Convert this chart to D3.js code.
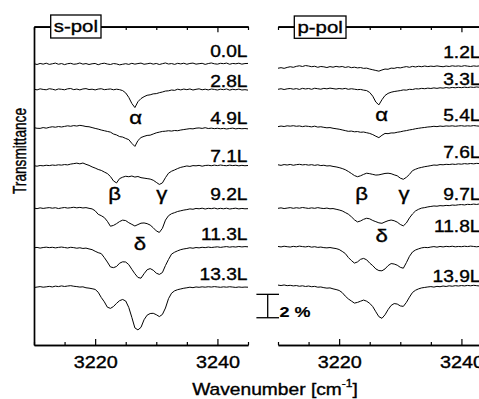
<!DOCTYPE html>
<html><head><meta charset="utf-8">
<script src="https://cdn.jsdelivr.net/npm/d3@7"></script>
<style>html,body{margin:0;padding:0;background:#fff;overflow:hidden}</style>
</head><body>
<svg id="chart" width="479" height="399"></svg>
<script>
// ---------- DATA ----------
const wavenumbers = [
3210,3210.5,3211,3211.5,3212,3212.5,3213,3213.5,3214,3214.5,
3215,3215.5,3216,3216.5,3217,3217.5,3218,3218.5,3219,3219.5,
3220,3220.5,3221,3221.5,3222,3222.5,3223,3223.5,3224,3224.5,
3225,3225.5,3226,3226.5,3227,3227.5,3228,3228.5,3229,3229.5,
3230,3230.5,3231,3231.5,3232,3232.5,3233,3233.5,3234,3234.5,
3235,3235.5,3236,3236.5,3237,3237.5,3238,3238.5,3239,3239.5,
3240,3240.5,3241,3241.5,3242,3242.5,3243,3243.5,3244,3244.5,
3245];

const panelTitles = ["s-pol", "p-pol"];
const sPolLabels = ["0.0L","2.8L","4.9L","7.1L","9.2L","11.3L","13.3L"];
const pPolLabels = ["1.2L","3.3L","5.4L","7.6L","9.7L","11.8L","13.9L"];
// vertical offsets of the stacked spectra (% transmittance)
const sPolOffsets = [24.02, 21.84, 18.55, 15.30, 11.67, 8.29, 4.91];
const pPolOffsets = [23.76, 21.88, 18.68, 15.38, 11.88, 8.40, 5.04];

// transmittance change (%) for each spectrum, s-polarisation
const s00 = [0.02,-0.05,0.04,-0.02,0.06,-0.04,0.01,0.07,-0.03,0.03,
-0.06,0.02,0.05,-0.03,0.00,0.08,-0.02,0.03,-0.05,0.01,
0.04,-0.07,0.02,0.06,-0.01,-0.05,0.03,0.00,-0.08,-0.03,
0.02,-0.04,0.05,-0.02,0.03,0.07,-0.03,0.01,0.06,-0.02,
0.04,-0.05,0.02,0.08,-0.01,0.03,-0.04,0.05,0.00,0.06,
-0.03,0.04,0.07,-0.02,0.02,0.05,-0.04,0.03,0.08,0.01,
-0.02,0.05,0.02,0.07,-0.03,0.04,0.01,0.06,-0.02,0.03,
0.04];
const s28 = [0.03,-0.04,0.05,0.00,-0.03,0.06,0.02,-0.05,0.04,0.01,
-0.03,0.05,0.08,-0.02,0.03,-0.04,0.04,0.07,-0.01,0.02,
-0.04,0.03,0.06,-0.02,0.01,0.04,-0.03,0.02,-0.02,-0.10,
-0.30,-0.68,-1.20,-1.55,-1.05,-0.78,-0.62,-0.50,-0.46,-0.38,
-0.36,-0.28,-0.22,-0.14,-0.12,-0.05,-0.08,0.02,-0.04,0.03,
-0.02,0.04,-0.05,0.01,0.05,-0.03,0.02,-0.04,0.03,0.00,
-0.05,0.02,-0.02,0.04,-0.06,0.01,-0.03,0.03,-0.05,-0.02,
-0.06];
const s49 = [0.02,-0.03,-0.04,0.03,-0.02,0.05,0.10,0.06,0.12,0.08,
0.13,0.18,0.14,0.20,0.16,0.22,0.18,0.12,0.10,0.03,
-0.04,-0.10,-0.18,-0.24,-0.30,-0.36,-0.52,-0.60,-0.74,-0.78,
-0.90,-1.00,-1.32,-1.58,-1.08,-0.82,-0.72,-0.64,-0.62,-0.52,
-0.42,-0.36,-0.30,-0.28,-0.24,-0.27,-0.22,-0.24,-0.18,-0.14,
-0.10,-0.06,-0.08,-0.02,0.00,-0.04,0.02,-0.05,-0.02,-0.06,
-0.03,-0.07,-0.04,-0.09,-0.05,-0.02,-0.08,-0.04,-0.07,-0.05,
-0.08];
const s71 = [0.02,-0.02,0.04,0.01,0.06,0.03,0.08,0.05,0.10,0.07,
0.12,0.09,0.16,0.20,0.24,0.18,0.25,0.14,0.05,-0.08,
-0.18,-0.30,-0.38,-0.52,-0.65,-0.90,-1.28,-1.45,-1.08,-0.96,
-0.88,-0.92,-0.86,-0.95,-0.90,-1.00,-1.04,-1.08,-1.12,-1.22,
-1.40,-1.58,-1.45,-1.00,-0.62,-0.45,-0.34,-0.22,-0.12,-0.06,
0.00,-0.04,0.03,0.01,0.05,-0.02,0.04,0.06,0.02,0.07,
0.03,0.08,0.04,0.02,0.07,0.03,0.06,0.01,0.05,0.02,
0.04];
const s92 = [0.03,-0.02,0.05,0.00,0.04,0.07,0.02,0.06,-0.01,0.04,
0.08,0.03,0.06,0.10,0.05,0.09,0.04,0.07,0.01,-0.04,
-0.20,-0.50,-0.62,-0.78,-1.10,-1.52,-1.45,-1.30,-1.12,-1.00,
-1.04,-1.22,-1.36,-1.50,-1.38,-1.26,-1.24,-1.30,-1.42,-1.65,
-1.92,-2.05,-1.70,-1.00,-0.62,-0.45,-0.36,-0.26,-0.20,-0.14,
-0.10,-0.04,-0.07,0.00,-0.03,0.02,-0.05,0.01,-0.02,0.03,
-0.04,0.01,-0.03,0.02,-0.05,-0.01,0.02,-0.04,0.00,-0.03,
-0.02];
const s113 = [0.02,0.05,-0.01,0.04,0.07,0.03,0.06,0.01,0.05,0.08,
0.04,0.00,0.06,0.03,-0.02,0.02,-0.04,-0.01,-0.08,-0.14,
-0.28,-0.40,-0.48,-0.82,-1.20,-1.62,-1.68,-1.58,-1.30,-1.18,
-1.20,-1.42,-1.82,-2.20,-2.52,-2.58,-2.20,-1.86,-1.76,-1.90,
-2.15,-2.26,-2.10,-1.50,-0.98,-0.52,-0.36,-0.24,-0.14,-0.08,
-0.04,0.02,-0.02,0.04,0.01,0.06,0.03,0.08,0.04,0.07,
0.10,0.05,0.09,0.12,0.07,0.11,0.08,0.13,0.09,0.12,
0.10];
const s133 = [0.00,0.04,0.08,0.03,0.06,0.10,0.05,0.12,0.08,0.14,
0.09,0.13,0.16,0.11,0.08,0.04,0.06,-0.02,-0.05,-0.10,
-0.16,-0.40,-0.85,-1.22,-1.68,-1.78,-1.62,-1.35,-1.12,-1.02,
-1.15,-1.70,-2.55,-3.45,-3.62,-3.40,-2.75,-2.36,-2.22,-2.20,
-2.32,-2.48,-2.30,-1.75,-0.95,-0.48,-0.28,-0.18,-0.12,-0.06,
-0.02,0.03,-0.01,0.05,0.02,0.06,0.03,0.07,0.04,0.08,
0.05,0.02,0.06,0.03,0.07,0.04,0.01,0.05,0.02,0.04,
0.03];

// p-polarisation
const p12 = [-0.11,-0.06,-0.12,-0.04,0.02,-0.03,0.05,0.10,0.04,0.12,
0.08,0.02,0.06,-0.03,0.04,0.01,-0.05,0.03,-0.02,0.05,
0.00,0.04,-0.04,0.02,-0.06,-0.02,-0.08,-0.05,-0.12,-0.10,
-0.18,-0.24,-0.30,-0.36,-0.26,-0.18,-0.20,-0.10,-0.12,-0.05,
-0.08,-0.02,0.03,-0.03,0.05,0.00,0.06,0.02,0.08,0.03,
0.07,0.04,0.09,0.05,0.02,0.08,0.04,0.10,0.06,0.09,
0.05,0.11,0.07,0.04,0.09,0.06,0.10,0.07,0.12,0.08,
0.10];
const p33 = [-0.03,0.02,-0.05,0.01,0.04,-0.02,0.03,-0.04,0.05,0.00,
0.04,-0.03,0.06,0.02,-0.02,0.05,0.01,0.07,0.03,-0.01,
0.04,0.00,0.05,-0.03,0.02,-0.02,-0.06,-0.04,-0.10,-0.14,
-0.30,-0.62,-1.12,-1.36,-0.92,-0.56,-0.38,-0.28,-0.22,-0.18,
-0.14,-0.08,-0.10,-0.03,-0.05,0.02,0.00,0.05,0.02,0.07,
0.04,0.09,0.05,0.10,0.07,0.12,0.08,0.13,0.10,0.14,
0.11,0.15,0.12,0.16,0.13,0.17,0.14,0.18,0.15,0.16,
0.17];
const p54 = [-0.02,0.03,-0.01,0.05,0.02,0.06,0.01,0.04,-0.02,0.03,
0.00,-0.04,0.02,-0.06,-0.03,-0.08,-0.12,-0.10,-0.16,-0.20,
-0.24,-0.30,-0.36,-0.42,-0.40,-0.46,-0.44,-0.50,-0.48,-0.54,
-0.60,-0.70,-0.84,-0.96,-0.76,-0.60,-0.62,-0.56,-0.56,-0.50,
-0.46,-0.40,-0.36,-0.30,-0.26,-0.20,-0.16,-0.12,-0.09,-0.05,
-0.03,0.01,-0.02,0.03,0.00,0.04,0.02,0.05,0.01,0.04,
0.06,0.02,0.05,0.03,0.07,0.04,0.02,0.06,0.03,0.05,
0.04];
const p76 = [0.02,-0.03,0.04,0.00,0.05,-0.02,0.03,0.06,0.01,0.04,
-0.01,0.03,-0.03,0.02,-0.05,-0.02,-0.08,-0.06,-0.12,-0.16,
-0.22,-0.30,-0.40,-0.55,-0.72,-0.90,-1.00,-0.92,-0.80,-0.70,
-0.74,-0.80,-0.86,-0.84,-0.78,-0.72,-0.70,-0.74,-0.84,-0.92,
-1.12,-1.22,-1.05,-0.80,-0.48,-0.36,-0.26,-0.20,-0.14,-0.10,
-0.05,0.00,-0.02,0.04,0.02,0.06,0.04,0.08,0.05,0.10,
0.07,0.12,0.09,0.13,0.10,0.14,0.12,0.16,0.13,0.15,
0.15];
const p97 = [-0.20,-0.16,-0.22,-0.18,-0.14,-0.20,-0.15,-0.19,-0.13,-0.17,
-0.21,-0.16,-0.20,-0.14,-0.19,-0.22,-0.18,-0.24,-0.22,-0.28,
-0.34,-0.42,-0.56,-0.70,-0.92,-1.18,-1.36,-1.28,-1.14,-1.05,
-1.10,-1.24,-1.34,-1.44,-1.48,-1.36,-1.26,-1.20,-1.26,-1.38,
-1.58,-1.70,-1.45,-1.02,-0.68,-0.42,-0.28,-0.18,-0.14,-0.08,
-0.04,0.00,-0.02,0.03,0.01,0.05,0.03,0.08,0.06,0.10,
0.12,0.09,0.14,0.12,0.16,0.13,0.18,0.15,0.20,0.17,
0.20];
const p118 = [0.02,-0.02,0.04,0.00,-0.03,0.03,-0.01,0.05,0.01,-0.02,
0.03,-0.04,0.00,-0.06,-0.03,-0.08,-0.10,-0.07,-0.12,-0.16,
-0.24,-0.40,-0.58,-0.92,-1.18,-1.40,-1.30,-1.08,-1.00,-1.12,
-1.40,-1.62,-1.90,-2.04,-2.06,-1.90,-1.62,-1.44,-1.48,-1.58,
-1.76,-1.84,-1.36,-0.82,-0.45,-0.28,-0.18,-0.10,-0.06,-0.08,
-0.03,0.01,-0.04,0.02,-0.02,0.03,0.00,0.04,-0.01,0.02,
0.00,0.04,0.01,0.05,0.02,-0.01,0.03,0.01,0.04,0.02,
0.01];
const p139 = [0.08,0.04,0.09,0.03,0.06,0.01,0.04,-0.02,0.02,-0.04,
0.00,-0.06,-0.03,-0.10,-0.08,-0.14,-0.18,-0.16,-0.24,-0.30,
-0.38,-0.56,-0.86,-1.10,-1.28,-1.46,-1.40,-1.30,-1.20,-1.30,
-1.48,-1.76,-2.20,-2.62,-2.76,-2.46,-2.02,-1.66,-1.50,-1.54,
-1.70,-1.74,-1.40,-0.95,-0.55,-0.36,-0.24,-0.16,-0.12,-0.08,
-0.05,-0.09,-0.03,-0.06,0.00,-0.04,0.02,-0.02,0.03,0.00,
0.04,0.01,0.05,0.02,0.06,0.03,0.00,0.04,0.01,0.03,
0.02];

const sPolSeries = [s00, s28, s49, s71, s92, s113, s133];
const pPolSeries = [p12, p33, p54, p76, p97, p118, p139];

const majorTicks = [3220, 3240];
const minorTicks = [3210, 3215, 3225, 3230, 3235, 3245];
const scaleBarPercent = 2;
const scaleBarLabel = "2 %";
const xTitle = "Wavenumber [cm";
const xTitleSup = "-1";
const yTitle = "Transmittance";

// ---------- LAYOUT ----------
const SX = 1.2;               // horizontal text stretch of the original figure
const FONT = "'Liberation Sans', Arial, Helvetica, sans-serif";
const TXT_STROKE = 0.35;      // slight extra weight, like the original print
const yTop = 26.7, yBot = 345;
const svg = d3.select("#chart").style("font-family", FONT);

const y = d3.scaleLinear().domain([0, 27.2]).range([yBot, yTop]);
const panels = [
  { x: d3.scaleLinear().domain([3210, 3245]).range([34, 248]),
    series: sPolSeries, offsets: sPolOffsets, labels: sPolLabels,
    labelX: 247.5, labelY: [57, 87, 123.5, 161.5, 200, 240, 280],
    box: [50.7, 15, 50.3, 23], title: panelTitles[0], leftAxis: true,
    greek: [["α",135.7,123.5],["β",114.7,200],["γ",161.7,200],["δ",140,250]] },
  { x: d3.scaleLinear().domain([3210, 3245]).range([278, 492]),
    series: pPolSeries, offsets: pPolOffsets, labels: pPolLabels,
    labelX: 480.5, labelY: [58.3, 85, 120.5, 158.3, 200, 232.3, 281.7],
    box: [294.3, 16, 51.7, 22.3], title: panelTitles[1], leftAxis: false,
    greek: [["α",381.7,120.5],["β",361.7,200],["γ",404,200],["δ",381.7,241.7]] }
];

function stretchedText(x, yy, str, size, anchor, weight) {
  return svg.append("text")
    .attr("transform", `translate(${x},${yy}) scale(${SX},1)`)
    .attr("text-anchor", anchor)
    .attr("font-size", size)
    .attr("font-weight", weight || "normal")
    .attr("fill", "#000")
    .attr("stroke", "#000").attr("stroke-width", weight === "bold" ? 0.15 : TXT_STROKE)
    .text(str);
}

panels.forEach(p => {
  const x = p.x;
  // bottom axis (ticks inward)
  const gB = svg.append("g").attr("transform", `translate(0,${yBot})`);
  gB.call(d3.axisBottom(x).tickValues(minorTicks).tickSize(-3).tickSizeOuter(0).tickFormat(""));
  const gBM = svg.append("g").attr("transform", `translate(0,${yBot})`);
  gBM.call(d3.axisBottom(x).tickValues(majorTicks).tickSize(-6).tickSizeOuter(0).tickFormat(d3.format("d")));
  gBM.selectAll("text").attr("y", null).attr("dy", null)
     .attr("transform", `translate(0,23) scale(${SX},1)`)
     .attr("font-size", 16.5).attr("font-family", FONT).attr("fill", "#000")
     .attr("stroke", "#000").attr("stroke-width", TXT_STROKE);
  // top axis (ticks inward)
  const gT = svg.append("g").attr("transform", `translate(0,${yTop})`);
  gT.call(d3.axisTop(x).tickValues(minorTicks).tickSize(-3.3).tickSizeOuter(0).tickFormat(""));
  const gTM = svg.append("g").attr("transform", `translate(0,${yTop})`);
  gTM.call(d3.axisTop(x).tickValues(majorTicks).tickSize(-5.6).tickSizeOuter(0).tickFormat(""));
  [gB, gBM, gT, gTM].forEach(g => {
    g.selectAll("path.domain").attr("stroke", "#000").attr("stroke-width", 1.7);
    g.selectAll("line").attr("stroke", "#000").attr("stroke-width", 1.2);
  });
  if (p.leftAxis) {
    const gL = svg.append("g").attr("transform", `translate(${x.range()[0]},0)`);
    gL.call(d3.axisLeft(y).tickValues([]).tickSizeOuter(0));
    gL.select("path.domain").attr("stroke", "#000").attr("stroke-width", 1.7);
  }
  // spectra
  p.series.forEach((vals, i) => {
    const off = p.offsets[i];
    const line = d3.line().x((d, j) => x(wavenumbers[j])).y(d => y(off + d));
    svg.append("path").datum(vals).attr("d", line)
      .attr("fill", "none").attr("stroke", "#000").attr("stroke-width", 1)
      .attr("stroke-linejoin", "round");
    stretchedText(p.labelX, p.labelY[i], p.labels[i], 16, "end");
  });
  // band labels
  p.greek.forEach(g => stretchedText(g[1], g[2], g[0], 18.5, "middle"));
  // title box
  svg.append("rect").attr("x", p.box[0]).attr("y", p.box[1]).attr("width", p.box[2]).attr("height", p.box[3])
    .attr("fill", "#fff").attr("stroke", "#000").attr("stroke-width", 1.3);
  stretchedText(p.box[0] + p.box[2] / 2, p.box[1] + 17, p.title, 17, "middle");
});

// scale bar (2 %)
const sbBase = 2.33, sbX = 267.7, sbHalf = 11.3;
svg.append("line").attr("x1", sbX).attr("x2", sbX).attr("y1", y(sbBase)).attr("y2", y(sbBase + scaleBarPercent))
  .attr("stroke", "#000").attr("stroke-width", 1.3);
[sbBase, sbBase + scaleBarPercent].forEach(v => {
  svg.append("line").attr("x1", sbX - sbHalf).attr("x2", sbX + sbHalf).attr("y1", y(v)).attr("y2", y(v))
    .attr("stroke", "#000").attr("stroke-width", 1.3);
});
stretchedText(279.5, 316.7, scaleBarLabel, 15, "start", "bold");

// axis titles
const xt = stretchedText(275, 395, xTitle, 16, "middle");
xt.append("tspan").attr("font-size", 10).attr("dy", -8).text(xTitleSup);
xt.append("tspan").attr("dy", 8).text("]");

svg.append("text")
  .attr("transform", `translate(25.5,151) scale(${SX},1) rotate(-90)`)
  .attr("text-anchor", "middle").attr("font-size", 15).attr("fill", "#000")
  .attr("textLength", 86).attr("lengthAdjust", "spacingAndGlyphs")
  .attr("stroke", "#000").attr("stroke-width", TXT_STROKE)
  .text(yTitle);
</script>
</body></html>
